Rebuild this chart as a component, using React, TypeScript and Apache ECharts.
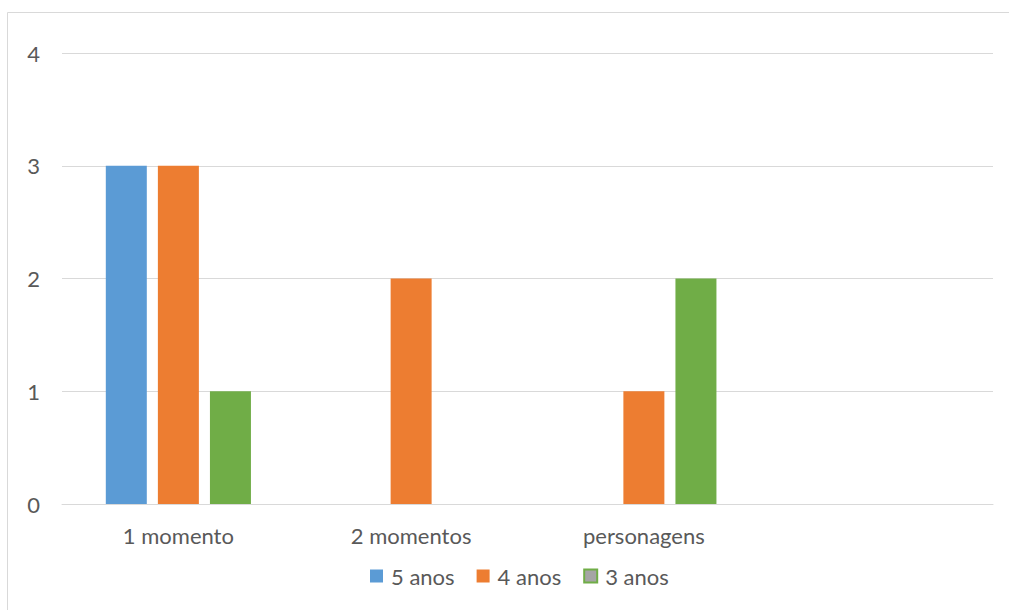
import React, { useEffect, useRef } from "react";
import * as echarts from "echarts";

const categories = ["1 momento", "2 momentos", "personagens", ""];
const seriesNames = ["5 anos", "4 anos", "3 anos"];
const anos5 = [3, 0, 0, 0];
const anos4 = [3, 2, 1, 0];
const anos3 = [1, 0, 2, 0];
const yTicks = [0, 1, 2, 3, 4];

const colors = ["#5b9bd5", "#ed7d31", "#70ad47"];
const FONT = "Lato, 'Open Sans', sans-serif";
const FS = 22;

export default function App() {
  const ref = useRef<HTMLDivElement>(null);
  useEffect(() => {
    document.body.style.margin = "0";
    document.body.style.overflow = "hidden";
    const chart = echarts.init(ref.current!, null, { renderer: "svg" });
    const values = [anos5, anos4, anos3];
    chart.setOption({
      animation: false,
      backgroundColor: "#ffffff",
      textStyle: { fontFamily: FONT },
      graphic: [
        {
          type: "line",
          shape: { x1: 7.5, y1: 12.5, x2: 1030, y2: 12.5 },
          style: { stroke: "#d9d9d9", lineWidth: 1 },
          silent: true,
        },
        {
          type: "line",
          shape: { x1: 7.5, y1: 12.5, x2: 7.5, y2: 640 },
          style: { stroke: "#d9d9d9", lineWidth: 1 },
          silent: true,
        },
      ],
      grid: { left: 62, right: 16, top: 53, bottom: 106, containLabel: false },
      legend: {
        bottom: 18,
        left: 365,
        itemWidth: 13,
        itemHeight: 13,
        itemGap: 22,
        icon: "rect",
        textStyle: { color: "#595959", fontSize: FS, fontFamily: FONT, padding: [0, 0, 0, 3] },
        data: [
          { name: seriesNames[0] },
          { name: seriesNames[1] },
          {
            name: seriesNames[2],
            itemStyle: { color: "#a5a5a5", borderColor: "#70ad47", borderWidth: 2 },
          },
        ],
      },
      xAxis: {
        type: "category",
        data: categories,
        axisLine: { lineStyle: { color: "#d9d9d9" } },
        axisTick: { show: false },
        axisLabel: { color: "#595959", fontSize: FS, margin: 20, fontFamily: FONT },
      },
      yAxis: {
        type: "value",
        min: yTicks[0],
        max: yTicks[yTicks.length - 1],
        interval: 1,
        axisLine: { show: false },
        axisTick: { show: false },
        splitLine: { lineStyle: { color: "#d9d9d9", width: 1 } },
        axisLabel: { color: "#595959", fontSize: FS, margin: 22, fontFamily: FONT },
      },
      series: seriesNames.map((name, i) => ({
        name,
        type: "bar",
        data: values[i],
        barWidth: 41,
        barGap: "27%",
        itemStyle: { color: colors[i] },
      })),
    });
    return () => chart.dispose();
  }, []);
  return (
    <div
      ref={ref}
      style={{ position: "absolute", left: 0, top: 0, width: 1009, height: 610 }}
    />
  );
}
